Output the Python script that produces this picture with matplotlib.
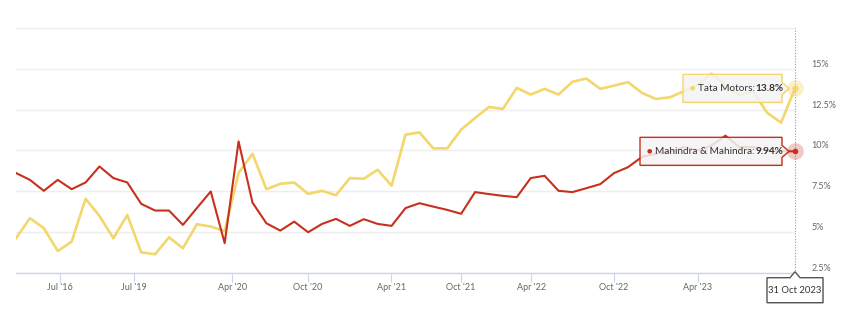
import numpy as np
import matplotlib.pyplot as plt
import matplotlib.transforms as mtransforms
from matplotlib.patches import Polygon
from matplotlib.text import Annotation

plt.rcParams['font.family'] = ['Lato', 'DejaVu Sans']

# share of market, %, one value per reporting point (ordinal axis)
tata = [4.61, 5.84, 5.23, 3.83, 4.40, 7.03, 5.98, 4.61, 6.04, 3.75,
        3.63, 4.67, 4.00, 5.47, 5.33, 5.05, 8.61, 9.79, 7.62, 7.95,
        8.03, 7.33, 7.52, 7.25, 8.30, 8.26, 8.81, 7.83, 10.96, 11.10,
        10.12, 10.12, 11.27, 11.98, 12.66, 12.54, 13.83, 13.42, 13.77, 13.42,
        14.20, 14.40, 13.77, 13.97, 14.18, 13.52, 13.15, 13.25, 13.62, 14.00,
        14.70, 14.00, 13.40, 13.60, 12.30, 11.70, 13.80]
mahindra = [8.61, 8.19, 7.52, 8.19, 7.62, 8.03, 9.01, 8.30, 8.03, 6.72,
            6.31, 6.31, 5.43, 6.46, 7.48, 4.31, 10.55, 6.80, 5.53, 5.08,
            5.63, 4.98, 5.49, 5.80, 5.37, 5.78, 5.49, 5.37, 6.46, 6.76,
            6.55, 6.35, 6.11, 7.44, 7.32, 7.21, 7.13, 8.30, 8.44, 7.52,
            7.44, 7.68, 7.93, 8.61, 8.97, 9.60, 9.80, 9.90, 10.20, 10.00,
            10.30, 10.90, 10.20, 10.20, 10.00, 9.94, 9.94]

tick_pos = [3.17, 8.49, 15.54, 21.0, 26.98, 32.0, 37.05, 43.0, 49.0]
tick_labels = ["Jul '16", "Jul '19", "Apr '20", "Oct '20", "Apr '21",
               "Oct '21", "Apr '22", "Oct '22", "Apr '23"]
y_ticks = [2.5, 5, 7.5, 10, 12.5, 15, 17.5]
y_labels = ['2.5%', '5%', '7.5%', '10%', '12.5%', '15%', '']
last_date = '31 Oct 2023'

yellow = '#f3d76c'
red = '#c6301c'

W, H = 849, 315
fig = plt.figure(figsize=(W / 100, H / 100), dpi=100)
ax = fig.add_axes([16 / W, 42.3 / H, 779 / W, 244.7 / H])

x = np.arange(len(tata))
ax.plot(x, tata, color=yellow, lw=1.9, zorder=3)
ax.plot(x, mahindra, color=red, lw=1.5, zorder=4)

ax.set_xlim(0, len(tata) - 1)
ax.set_ylim(2.5, 17.5)

for s in ['top', 'left', 'right']:
    ax.spines[s].set_visible(False)
ax.spines['bottom'].set_color('#ccd6eb')
ax.spines['bottom'].set_linewidth(1)

ax.set_xticks(tick_pos, tick_labels)
ax.tick_params(axis='x', length=6.5, width=0.8, color='#ccd6eb',
               labelcolor='#666666', labelsize=6.5, pad=1)
ax.yaxis.tick_right()
ax.set_yticks(y_ticks, y_labels)
ax.tick_params(axis='y', length=0, pad=12, labelcolor='#666666', labelsize=6.5)
for lab in ax.get_yticklabels():
    lab.set_verticalalignment('bottom')
ax.grid(axis='y', color='#eeeeee', lw=1)
ax.set_axisbelow(True)

# crosshair at the last point
last = len(tata) - 1
ax.axvline(last, color='#9a9a9a', lw=0.8, ls=(0, (1, 1.5)), clip_on=False, zorder=2)

# hover markers
ax.plot([last], [tata[-1]], 'o', ms=12, color=yellow, alpha=0.35, mec='none', clip_on=False, zorder=5)
ax.plot([last], [tata[-1]], 'o', ms=4.5, color=yellow, mec='none', clip_on=False, zorder=6)
ax.plot([last], [mahindra[-1]], 'o', ms=12, color=red, alpha=0.25, mec='none', clip_on=False, zorder=5)
ax.plot([last], [mahindra[-1]], 'o', ms=4, color=red, mec='none', clip_on=False, zorder=6)

idt = mtransforms.IdentityTransform()


def add_box(pts):
    shadow = Polygon([(a + 1, c - 1) for a, c in pts], closed=True,
                     fc=(0, 0, 0, 0.08), ec='none', transform=idt)
    fig.add_artist(shadow)


def tooltip(yv, color, name, value, width):
    px, py = ax.transData.transform((last, yv))
    r = px - 13
    l = r - width
    b, t = py - 14, py + 14
    pts = [(l, b), (r, b), (r, py - 6), (r + 7, py), (r, py + 6), (r, t), (l, t)]
    add_box(pts)
    box = Polygon(pts, closed=True, fc=(0.97, 0.97, 0.97, 0.85), ec=color,
                  lw=1, transform=idt)
    fig.add_artist(box)
    fig.text((l + 9) / W, py / H, '\u25cf', color=color, fontsize=4.5,
             va='center', ha='center', family='DejaVu Sans')
    t1 = fig.text((l + 15) / W, py / H, name + ':', color='#333333',
                  fontsize=7.2, va='center')
    ann = Annotation(value, xy=(1, 0.5), xycoords=t1, xytext=(0.4, 0),
                     textcoords='offset points', va='center', ha='left',
                     fontsize=7.2, fontweight='bold', color='#333333')
    fig.add_artist(ann)


tooltip(tata[-1], yellow, 'Tata Motors', '13.8%', 99)
tooltip(mahindra[-1], red, 'Mahindra & Mahindra', '9.94%', 142)

# date label under the crosshair
px, py = ax.transData.transform((last, 2.5))
t = py - 5
b = t - 25
l, r = px - 28, px + 28
pts = [(l, b), (r, b), (r, t), (px + 5, t), (px, t + 6), (px - 5, t), (l, t)]
add_box(pts)
fig.add_artist(Polygon(pts, closed=True, fc='white', ec='#555555', lw=1, transform=idt))
fig.text(px / W, (b + t) / 2 / H, last_date, color='#333333', fontsize=6.8,
         ha='center', va='center')

fig.savefig('out.png', dpi=100, facecolor='white')
